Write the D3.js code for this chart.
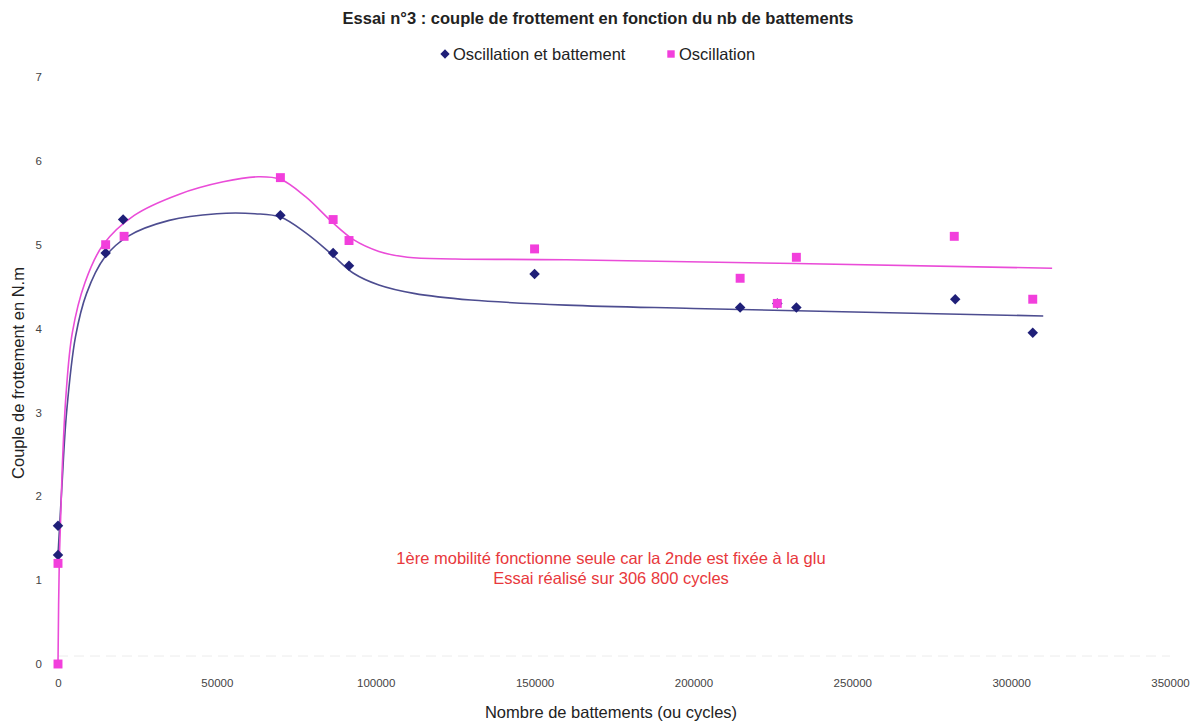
<!DOCTYPE html>
<html>
<head>
<meta charset="utf-8">
<script src="https://cdn.jsdelivr.net/npm/d3@7"></script>
<style>
  html, body { margin: 0; padding: 0; background: #fff; }
  svg { display: block; font-family: "Liberation Sans", Arial, Helvetica, sans-serif; }
</style>
</head>
<body>
<svg id="chart" width="1199" height="722"></svg>
<script>
// Measured points: number of cycles vs friction torque (N.m)
const cyclesBattement = [0, 0, 15000, 20500, 70000, 86600, 91600, 150000, 214700, 226400, 232400, 282400, 306800];
const torqueBattement = [1.3, 1.65, 4.9, 5.3, 5.35, 4.9, 4.75, 4.65, 4.25, 4.3, 4.25, 4.35, 3.95];

const cyclesOscillation = [0, 0, 15000, 20800, 70000, 86600, 91600, 150000, 214700, 226400, 232400, 282100, 306800];
const torqueOscillation = [0, 1.2, 5.0, 5.1, 5.8, 5.3, 5.05, 4.95, 4.6, 4.3, 4.85, 5.1, 4.35];

// Smoothed trend curves
const trendBattementX = [0, 1200, 2700, 5500, 9000, 14700, 22000, 35000, 50000, 62000, 70000, 78000, 86000, 93000, 101000, 112000, 130000, 160000, 200000, 310100];
const trendBattementY = [1.3, 2.1, 3.0, 3.9, 4.42, 4.85, 5.1, 5.29, 5.37, 5.37, 5.33, 5.14, 4.89, 4.66, 4.52, 4.42, 4.34, 4.28, 4.24, 4.15];

const trendOscillationX = [0, 400, 1300, 2500, 4500, 8500, 14200, 24000, 38000, 52000, 63000, 70000, 78000, 86000, 93000, 101000, 110000, 125000, 160000, 312900];
const trendOscillationY = [0, 1.2, 2.3, 3.2, 3.95, 4.55, 5.0, 5.35, 5.6, 5.75, 5.81, 5.78, 5.57, 5.28, 5.06, 4.92, 4.85, 4.83, 4.82, 4.72];

const xTicks = [0, 50000, 100000, 150000, 200000, 250000, 300000, 350000];
const yTicks = [0, 1, 2, 3, 4, 5, 6, 7];

const titleText = "Essai n°3 : couple de frottement en fonction du nb de battements";
const seriesNames = ["Oscillation et battement", "Oscillation"];
const noteLines = ["1ère mobilité fonctionne seule car la 2nde est fixée à la glu", "Essai réalisé sur 306 800 cycles"];

const colBlue = "#1f1f78", colBlueLine = "#4d4d90";
const colPink = "#f23fdc", colPinkLine = "#ea4cd8";

const svg = d3.select("#chart");
const x = d3.scaleLinear().domain([0, 350000]).range([58, 1170]);
const y = d3.scaleLinear().domain([0, 7]).range([664, 77]);

// faint baseline
svg.append("line")
  .attr("x1", x(0)).attr("x2", x(350000))
  .attr("y1", y(0) - 8).attr("y2", y(0) - 8)
  .attr("stroke", "#ececec").attr("stroke-dasharray", "10,6");

// axes (labels only)
const yAxis = svg.append("g")
  .attr("transform", `translate(${x(0) - 8},0)`)
  .call(d3.axisLeft(y).tickValues(yTicks).tickSize(0).tickPadding(8).tickFormat(d3.format("d")));
yAxis.select(".domain").remove();
yAxis.selectAll("text").attr("font-size", 11.5).attr("fill", "#444")
  .attr("font-family", "'Liberation Sans', Arial, sans-serif");

const xAxis = svg.append("g")
  .attr("transform", `translate(0,${y(0) + 9})`)
  .call(d3.axisBottom(x).tickValues(xTicks).tickSize(0).tickPadding(6).tickFormat(d3.format("d")));
xAxis.select(".domain").remove();
xAxis.selectAll("text").attr("font-size", 11.5).attr("fill", "#444")
  .attr("font-family", "'Liberation Sans', Arial, sans-serif");

// trend curves
const line = d3.line().x(d => x(d[0])).y(d => y(d[1])).curve(d3.curveCatmullRom.alpha(0.5));
const trendB = trendBattementX.map((v, i) => [v, trendBattementY[i]]);
const trendO = trendOscillationX.map((v, i) => [v, trendOscillationY[i]]);

svg.append("path").datum(trendB).attr("d", line)
  .attr("fill", "none").attr("stroke", colBlueLine).attr("stroke-width", 1.6);
svg.append("path").datum(trendO).attr("d", line)
  .attr("fill", "none").attr("stroke", colPinkLine).attr("stroke-width", 1.6);

// markers
const diamond = d3.symbol().type(d3.symbolDiamond2).size(70);
const square = d3.symbol().type(d3.symbolSquare).size(80);

svg.append("g").selectAll("path")
  .data(cyclesBattement.map((v, i) => [v, torqueBattement[i]]))
  .join("path")
  .attr("d", diamond)
  .attr("transform", d => `translate(${x(d[0])},${y(d[1])})`)
  .attr("fill", colBlue);

svg.append("g").selectAll("path")
  .data(cyclesOscillation.map((v, i) => [v, torqueOscillation[i]]))
  .join("path")
  .attr("d", square)
  .attr("transform", d => `translate(${x(d[0])},${y(d[1])})`)
  .attr("fill", colPink);

// title
svg.append("text").attr("x", 598).attr("y", 24).attr("text-anchor", "middle")
  .attr("font-size", 16.5).attr("font-weight", "bold").attr("fill", "#222").text(titleText);

// legend
const lg = svg.append("g");
lg.append("path").attr("d", d3.symbol().type(d3.symbolDiamond2).size(55))
  .attr("transform", "translate(445,54)").attr("fill", colBlue);
lg.append("text").attr("x", 453).attr("y", 60).attr("font-size", 16.5).attr("fill", "#222").text(seriesNames[0]);
lg.append("path").attr("d", d3.symbol().type(d3.symbolSquare).size(55))
  .attr("transform", "translate(671,54)").attr("fill", colPink);
lg.append("text").attr("x", 679).attr("y", 60).attr("font-size", 16.5).attr("fill", "#222").text(seriesNames[1]);

// axis titles
svg.append("text").attr("x", 611).attr("y", 718).attr("text-anchor", "middle")
  .attr("font-size", 16.5).attr("fill", "#222").text("Nombre de battements (ou cycles)");
svg.append("text").attr("transform", "translate(24,373) rotate(-90)").attr("text-anchor", "middle")
  .attr("font-size", 16.5).attr("fill", "#222").text("Couple de frottement en N.m");

// note
noteLines.forEach((t, i) => {
  svg.append("text").attr("x", 611).attr("y", 564 + i * 20).attr("text-anchor", "middle")
    .attr("font-size", 16.5).attr("fill", "#e8383c").text(t);
});
</script>
</body>
</html>
